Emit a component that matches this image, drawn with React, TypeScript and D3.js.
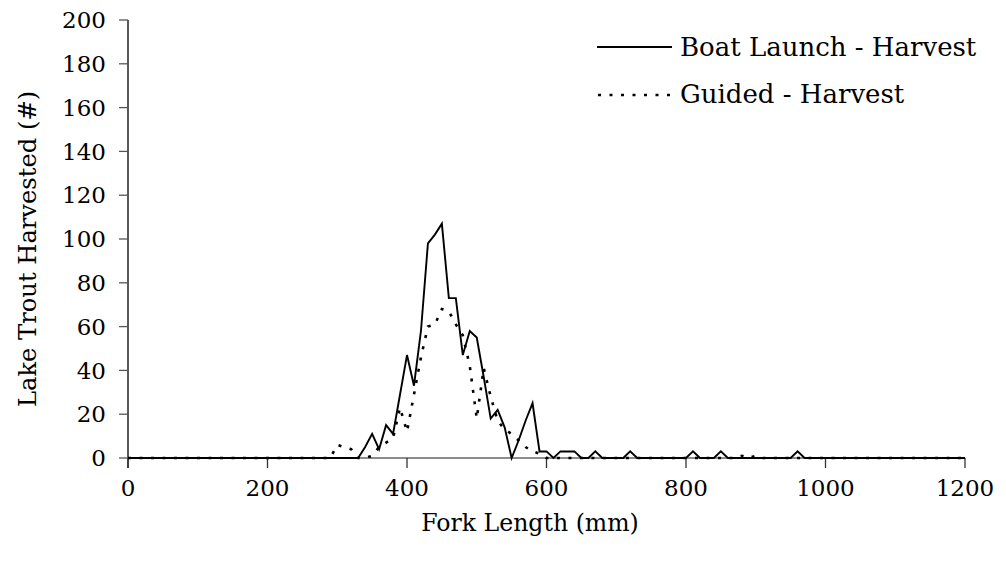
import React from "react";
import * as d3 from "d3";

// Fork length bins (mm), 10 mm steps 0..1200
const forkLength: number[] = [
  0, 10, 20, 30, 40, 50, 60, 70, 80, 90,
  100, 110, 120, 130, 140, 150, 160, 170, 180, 190,
  200, 210, 220, 230, 240, 250, 260, 270, 280, 290,
  300, 310, 320, 330, 340, 350, 360, 370, 380, 390,
  400, 410, 420, 430, 440, 450, 460, 470, 480, 490,
  500, 510, 520, 530, 540, 550, 560, 570, 580, 590,
  600, 610, 620, 630, 640, 650, 660, 670, 680, 690,
  700, 710, 720, 730, 740, 750, 760, 770, 780, 790,
  800, 810, 820, 830, 840, 850, 860, 870, 880, 890,
  900, 910, 920, 930, 940, 950, 960, 970, 980, 990,
  1000, 1010, 1020, 1030, 1040, 1050, 1060, 1070, 1080, 1090,
  1100, 1110, 1120, 1130, 1140, 1150, 1160, 1170, 1180, 1190,
  1200,
];

const boatLaunch: number[] = [
  0, 0, 0, 0, 0, 0, 0, 0, 0, 0,
  0, 0, 0, 0, 0, 0, 0, 0, 0, 0,
  0, 0, 0, 0, 0, 0, 0, 0, 0, 0,
  0, 0, 0, 0, 5, 11, 4, 15, 11, 29,
  47, 33, 58, 98, 102, 107, 73, 73, 47, 58,
  55, 37, 18, 22, 14, 0, 8, 17, 25, 3,
  3, 0, 3, 3, 3, 0, 0, 3, 0, 0,
  0, 0, 3, 0, 0, 0, 0, 0, 0, 0,
  0, 3, 0, 0, 0, 3, 0, 0, 0, 0,
  0, 0, 0, 0, 0, 0, 3, 0, 0, 0,
  0, 0, 0, 0, 0, 0, 0, 0, 0, 0,
  0, 0, 0, 0, 0, 0, 0, 0, 0, 0,
  0,
];

const guided: number[] = [
  0, 0, 0, 0, 0, 0, 0, 0, 0, 0,
  0, 0, 0, 0, 0, 0, 0, 0, 0, 0,
  0, 0, 0, 0, 0, 0, 0, 0, 0, 0,
  6, 5, 4, 0, 0, 1, 5, 7, 9, 23,
  12, 29, 46, 60, 61, 68, 67, 61, 56, 42,
  18, 41, 28, 17, 13, 11, 8, 5, 3, 2,
  0, 0, 0, 0, 0, 0, 0, 0, 0, 0,
  0, 0, 0, 0, 0, 0, 0, 0, 0, 0,
  0, 0, 0, 0, 0, 0, 0, 0, 1, 0,
  1, 0, 0, 0, 0, 0, 0, 0, 0, 0,
  0, 0, 0, 0, 0, 0, 0, 0, 0, 0,
  0, 0, 0, 0, 0, 0, 0, 0, 0, 0,
  0,
];

const xTicks: number[] = [0, 200, 400, 600, 800, 1000, 1200];
const yTicks: number[] = [0, 20, 40, 60, 80, 100, 120, 140, 160, 180, 200];
const seriesNames: string[] = ["Boat Launch - Harvest", "Guided - Harvest"];

const W = 1006;
const H = 573;
const FONT = "'DejaVu Serif', serif";
const FS = 23;
const FS_TITLE = 23.6;
const FS_LEGEND = 26;

export default function App() {
  const x = d3.scaleLinear().domain([0, 1200]).range([128, 965]);
  const y = d3.scaleLinear().domain([0, 200]).range([458, 20]);

  const line = d3
    .line<number>()
    .x((_, i) => x(forkLength[i]))
    .y((d) => y(d));

  return (
    <>
      <style>{`body{margin:0}`}</style>
      <svg width={W} height={H} style={{ display: "block", background: "#fff" }} fontFamily={FONT}>
        {/* y axis */}
        <line x1={x(0)} x2={x(0)} y1={y(200)} y2={y(0) + 10} stroke="#000" strokeWidth={1.3} />
        {yTicks.map((t) => (
          <g key={"y" + t}>
            <line x1={x(0) - 9} x2={x(0)} y1={y(t)} y2={y(t)} stroke="#555" strokeWidth={1.3} />
            <text x={106} y={y(t)} dy="0.36em" textAnchor="end" fontSize={FS} fill="#000">
              {t}
            </text>
          </g>
        ))}
        {/* x axis */}
        <line x1={x(0)} x2={x(1200)} y1={y(0)} y2={y(0)} stroke="#666" strokeWidth={1.3} />
        {xTicks.map((t) => (
          <g key={"x" + t}>
            <line x1={x(t)} x2={x(t)} y1={y(0)} y2={y(0) + 10} stroke="#333" strokeWidth={1.3} />
            <text x={x(t)} y={496} textAnchor="middle" fontSize={FS} fill="#000">
              {t}
            </text>
          </g>
        ))}
        <text x={530} y={531} textAnchor="middle" fontSize={FS_TITLE} fill="#000">
          Fork Length (mm)
        </text>
        <text
          transform={`translate(36,${(y(0) + y(200)) / 2 + 10}) rotate(-90)`}
          textAnchor="middle"
          fontSize={FS_TITLE + 0.6}
          fill="#000"
        >
          Lake Trout Harvested (#)
        </text>

        {/* series */}
        <path d={line(guided) || ""} fill="none" stroke="#000" strokeWidth={2.6} strokeDasharray="3 8.5" />
        <path d={line(boatLaunch) || ""} fill="none" stroke="#000" strokeWidth={1.9} strokeLinejoin="miter" />

        {/* legend */}
        <line x1={597} x2={672} y1={47} y2={47} stroke="#000" strokeWidth={1.9} />
        <text x={680} y={47} dy="0.36em" fontSize={FS_LEGEND} fill="#000">
          {seriesNames[0]}
        </text>
        <line x1={598} x2={672} y1={95} y2={95} stroke="#000" strokeWidth={2.6} strokeDasharray="3 8.5" />
        <text x={680} y={94} dy="0.36em" fontSize={FS_LEGEND} fill="#000">
          {seriesNames[1]}
        </text>
      </svg>
    </>
  );
}
